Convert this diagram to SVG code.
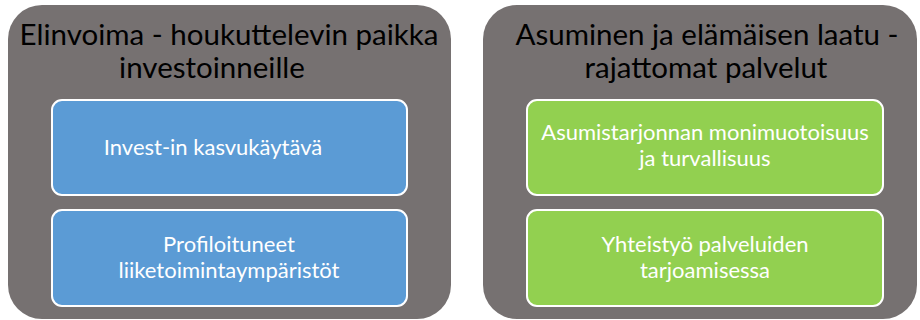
<svg xmlns="http://www.w3.org/2000/svg" width="920" height="320" viewBox="0 0 920 320">
<style>
.outer{fill:#767171}
.blue{fill:#5B9BD5;stroke:#fff;stroke-width:2}
.green{fill:#92D050;stroke:#fff;stroke-width:2}
.title{font-family:Lato,"Liberation Sans",sans-serif;font-size:29.5px;fill:#000;text-anchor:middle}
.lbl{font-family:Lato,"Liberation Sans",sans-serif;font-size:22px;fill:#fff;text-anchor:middle}
</style>
<rect width="920" height="320" fill="#fff"/>
<g id="left">
<rect class="outer" x="8" y="5" width="443" height="314" rx="34"/>
<text class="title" x="229" y="45">Elinvoima - houkuttelevin paikka</text>
<text class="title" x="212" y="78">investoinneille</text>
</g>
<g id="invest">
<rect class="blue" x="52" y="100" width="355" height="95" rx="10"/>
<text class="lbl" x="213" y="155">Invest-in kasvukäytävä</text>
</g>
<g id="profiloituneet">
<rect class="blue" x="52" y="210" width="355" height="96" rx="10"/>
<text class="lbl" x="229" y="252">Profiloituneet</text>
<text class="lbl" x="229" y="278">liiketoimintaympäristöt</text>
</g>
<g id="right">
<rect class="outer" x="483" y="5" width="434" height="314" rx="34"/>
<text class="title" x="707" y="45">Asuminen ja elämäisen laatu -</text>
<text class="title" x="706" y="78">rajattomat palvelut</text>
</g>
<g id="asumistarjonta">
<rect class="green" x="527" y="100" width="356" height="95" rx="10"/>
<text class="lbl" x="705" y="140">Asumistarjonnan monimuotoisuus</text>
<text class="lbl" x="705" y="166">ja turvallisuus</text>
</g>
<g id="yhteistyo">
<rect class="green" x="527" y="210" width="356" height="96" rx="10"/>
<text class="lbl" x="705" y="252">Yhteistyö palveluiden</text>
<text class="lbl" x="705" y="278">tarjoamisessa</text>
</g>
<g id="connectors"/>
</svg>
